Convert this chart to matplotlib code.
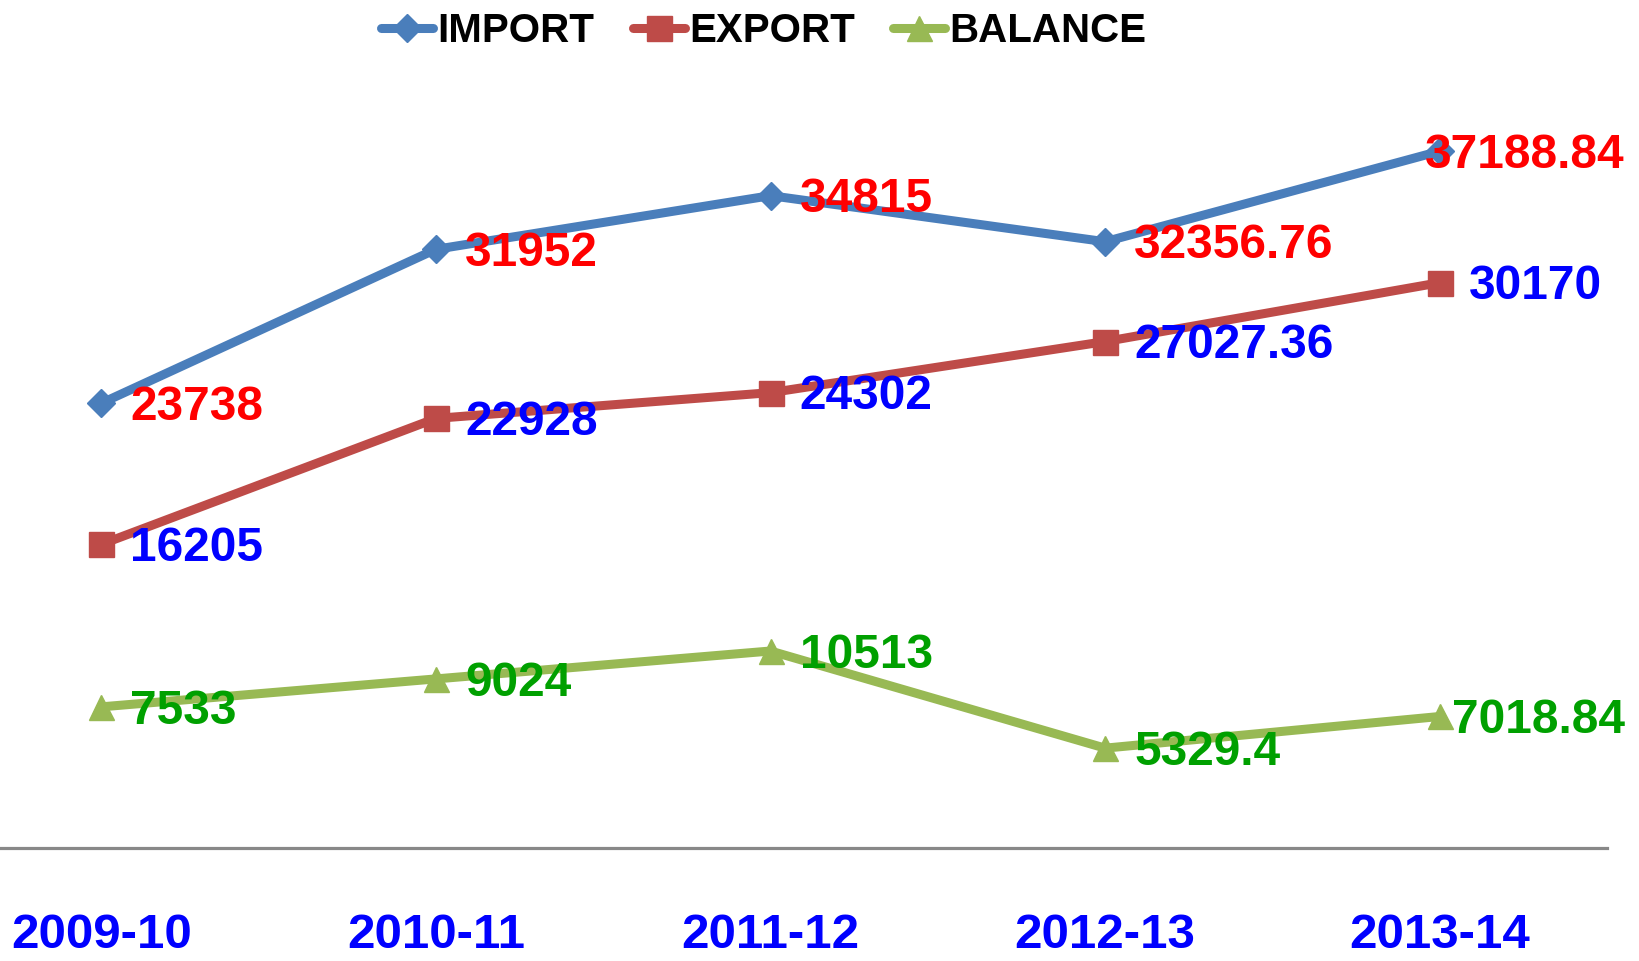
import matplotlib
matplotlib.use("Agg")
import matplotlib.pyplot as plt

years = ["2009-10", "2010-11", "2011-12", "2012-13", "2013-14"]
imports = [23738, 31952, 34815, 32356.76, 37188.84]
exports = [16205, 22928, 24302, 27027.36, 30170]
balance = [7533, 9024, 10513, 5329.4, 7018.84]
import_labels = ["23738", "31952", "34815", "32356.76", "37188.84"]
export_labels = ["16205", "22928", "24302", "27027.36", "30170"]
balance_labels = ["7533", "9024", "10513", "5329.4", "7018.84"]

C_IMP = "#4A7EBB"
C_EXP = "#BE4B48"
C_BAL = "#98B954"
FAM = ["Liberation Sans", "DejaVu Sans"]

W, H, DPI = 1639, 961, 100
fig = plt.figure(figsize=(W / DPI, H / DPI), dpi=DPI)
ax = fig.add_axes([-66 / W, (H - 848) / H, 1673 / W, (848 - 98.5) / H])
x = list(range(len(years)))

common = dict(lw=6.5, solid_joinstyle="round", solid_capstyle="round", zorder=3)
ax.plot(x, imports, color=C_IMP, marker="D", ms=14, mfc=C_IMP, mec=C_IMP, label="IMPORT", **common)
ax.plot(x, exports, color=C_EXP, marker="s", ms=18, mfc=C_EXP, mec=C_EXP, label="EXPORT", **common)
ax.plot(x, balance, color=C_BAL, marker="^", ms=18, mfc=C_BAL, mec=C_BAL, label="BALANCE", **common)

ax.set_xlim(-0.5, 4.5)
ax.set_ylim(0, 40000)
ax.set_yticks([])
for s in ["left", "right", "top"]:
    ax.spines[s].set_visible(False)
ax.spines["bottom"].set_color("#888888")
ax.spines["bottom"].set_linewidth(2.3)
ax.set_xticks(x)
ax.set_xticklabels(years)
ax.tick_params(axis="x", length=0, pad=47, labelsize=35.5, labelcolor="#0000FF")
for t in ax.get_xticklabels():
    t.set_family(FAM)
    t.set_fontweight("bold")

lab_font = dict(family=FAM, fontweight="bold", fontsize=34.5)
anns = []
for vals, labs, col in [(imports, import_labels, "#FF0000"),
                        (exports, export_labels, "#0000FF"),
                        (balance, balance_labels, "#00A000")]:
    for xi, v, lb in zip(x, vals, labs):
        a = ax.annotate(lb, (xi, v), xytext=(21, -12), textcoords="offset points",
                        ha="left", va="baseline", color=col, zorder=4, **lab_font)
        anns.append(a)

leg = fig.legend(loc="center", bbox_to_anchor=(0.466, 0.968), ncol=3, frameon=False,
                 borderpad=0, handlelength=1.3, handletextpad=0.1, columnspacing=0.95,
                 prop=dict(family=FAM, weight="bold", size=29))

fig.canvas.draw()
r = fig.canvas.get_renderer()
limit = 1625
for a in anns:
    bb = a.get_window_extent(r)
    if bb.x1 > limit:
        dx_px = limit - bb.x1
        ox, oy = a.xyann
        a.xyann = (ox + dx_px * 72 / DPI, oy)

fig.savefig("out.png", dpi=DPI, facecolor="white")
